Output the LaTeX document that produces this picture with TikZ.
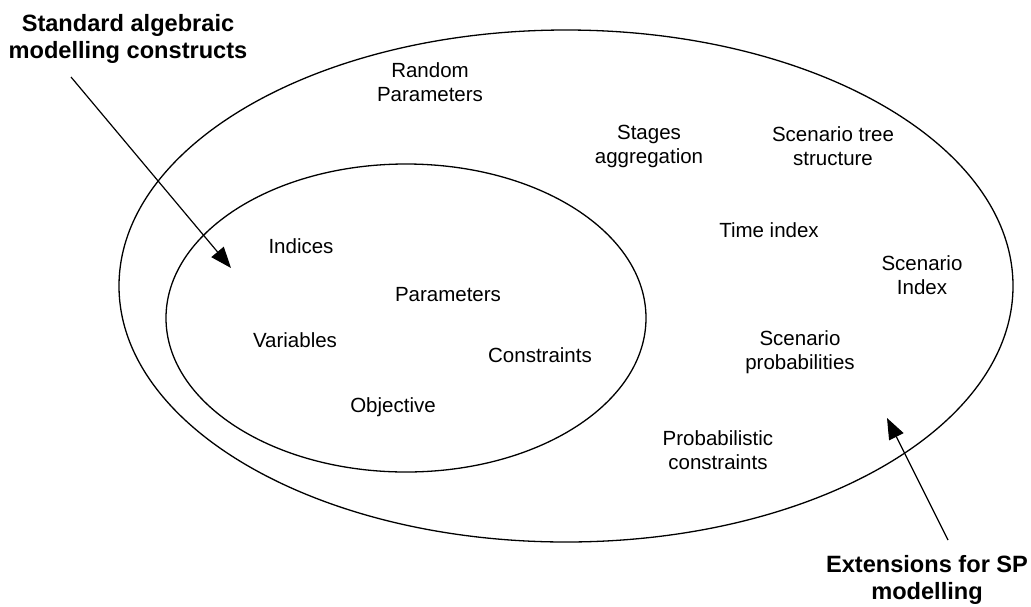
\documentclass[tikz,border=0pt]{standalone}
\usepackage{fontspec}
\setmainfont{Liberation Sans}
\usetikzlibrary{arrows.meta}
\begin{document}
\begin{tikzpicture}[x=1pt,y=-1pt,
  lbl/.style={align=center,font=\fontsize{20.5}{24}\selectfont,inner sep=0pt},
  blbl/.style={align=center,font=\fontsize{23.6}{27}\selectfont\bfseries,inner sep=0pt},
  ring/.style={draw,line width=1.3pt},
  ptr/.style={line width=1.2pt,-{Triangle[length=21pt,width=16pt]}}]
\useasboundingbox (0,0) rectangle (1031,606);
\fill[white] (0,0) rectangle (1031,606);
\draw[ring] (566,286) ellipse [x radius=447, y radius=256];
\draw[ring] (406,318) ellipse [x radius=240, y radius=154];
% labels
\node[blbl] (std) at (128,39) {Standard algebraic\\modelling constructs};
\node[blbl] (ext) at (927,580) {Extensions for SP\\modelling};
\node[lbl] (rand) at (430,82) {Random\\Parameters};
\node[lbl] (stag) at (649,146) {Stages\\aggregation};
\node[lbl] (tree) at (833,146) {Scenario tree\\structure};
\node[lbl] (time) at (769,230) {Time index};
\node[lbl] (sidx) at (922,275) {Scenario\\Index};
\node[lbl] (prob) at (800,352) {Scenario\\probabilities};
\node[lbl] (pcon) at (718,450) {Probabilistic\\constraints};
\node[lbl] (ind) at (301,246) {Indices};
\node[lbl] (par) at (448,295) {Parameters};
\node[lbl] (var) at (295,340) {Variables};
\node[lbl] (con) at (540,355) {Constraints};
\node[lbl] (obj) at (393,407) {Objective};
% arrows
\coordinate (a1s) at (71,77);
\coordinate (a1e) at (231,268);
\coordinate (a2s) at (948,540);
\coordinate (a2e) at (887,418);
\draw[ptr] (a1s) -- (a1e);
\draw[ptr] (a2s) -- (a2e);
\end{tikzpicture}
\end{document}
